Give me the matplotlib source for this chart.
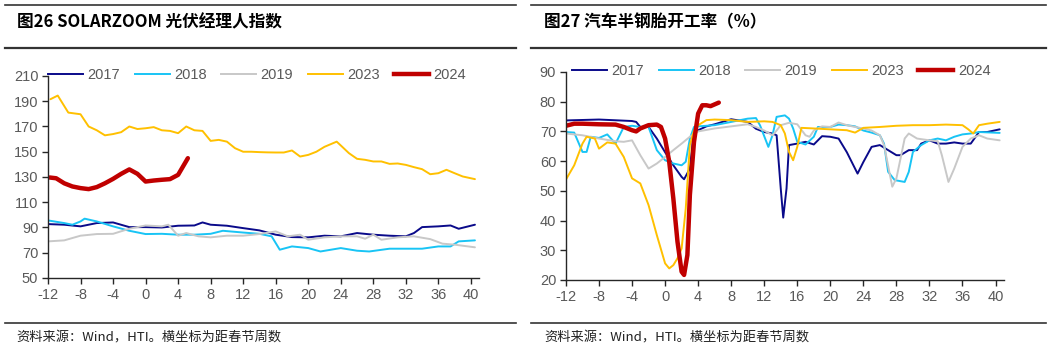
import numpy as np
import matplotlib.pyplot as plt
from matplotlib.lines import Line2D

plt.rcParams['font.family'] = ['Liberation Sans', 'Noto Sans CJK SC', 'DejaVu Sans']
plt.rcParams['axes.unicode_minus'] = False

# ---- Fig 26: SOLARZOOM PV manager index (weeks from Spring Festival)
pv17_x = [-12, -10, -8, -6, -4, -2, 0, 2, 4, 6, 7, 8, 10, 12, 14, 16, 18, 20, 22, 24, 26, 28, 30, 32, 33, 34, 36, 37.5, 38.5, 40.5]
pv17_y = [92.7, 92.2, 90.9, 93.5, 94.0, 90.3, 90.3, 90.0, 91.4, 91.6, 94.0, 92.2, 91.4, 89.5, 87.7, 84.3, 82.4, 82.2, 83.5, 83.0, 85.6, 84.3, 83.5, 83.0, 85.6, 90.3, 90.9, 91.6, 89.0, 92.2]

pv18_x = [-12, -10, -9, -8, -7.5, -6, -4, -2, 0, 2, 4, 6, 8, 9.5, 12, 14, 15.5, 16.5, 18, 20, 21.5, 24, 26, 27.5, 30, 32, 34, 36, 37.5, 38.5, 40.5]
pv18_y = [95.6, 93.5, 92.2, 94.8, 97.0, 94.8, 90.9, 87.4, 84.8, 85.0, 84.3, 84.3, 85.0, 87.4, 86.0, 85.0, 83.0, 72.4, 75.0, 73.7, 71.0, 73.7, 71.6, 71.0, 73.2, 73.2, 73.2, 75.0, 75.0, 79.0, 79.8]

pv19_x = [-12, -10, -8, -6, -4, -2, 0, 2, 2.8, 4, 5, 6.5, 8, 10, 12, 14, 16, 17.5, 19, 20, 22, 24, 26, 27, 28, 29, 31, 33, 35, 36.5, 38, 40.5]
pv19_y = [79.0, 79.8, 83.5, 84.8, 85.0, 89.0, 91.6, 90.9, 92.2, 83.5, 85.6, 83.0, 82.2, 83.5, 83.5, 84.8, 86.9, 83.0, 84.3, 80.3, 82.2, 83.0, 83.0, 81.1, 84.3, 80.3, 82.2, 83.0, 80.8, 77.2, 76.4, 74.3]

pv23_x = [-11.7, -10.8, -9.5, -8, -7, -6, -5, -4, -3, -2, -1, 0, 1, 2, 3, 4, 5, 6, 7, 8, 9, 10, 11, 12, 13, 14, 15, 16, 17, 18, 19, 20, 21, 22, 23.5, 24, 25, 26, 27, 28, 29, 30, 31, 32, 33, 34, 35, 36, 37, 38, 39, 40, 40.5]
pv23_y = [191.6, 194.5, 181.0, 179.7, 170.0, 167.0, 163.0, 164.0, 165.5, 170.0, 168.0, 168.6, 169.5, 167.0, 166.5, 164.7, 170.0, 167.0, 166.5, 158.6, 159.4, 158.0, 152.8, 150.0, 150.0, 149.7, 149.5, 149.4, 149.4, 151.0, 146.2, 147.5, 150.0, 153.9, 158.0, 155.0, 148.9, 144.4, 143.6, 142.3, 142.3, 140.4, 140.7, 139.6, 137.8, 136.2, 132.2, 133.0, 135.7, 133.0, 130.4, 129.0, 128.3]

pv24_x = [-11.8, -11, -10, -9, -8, -7, -6, -5, -4, -3, -2, -1, 0, 1, 2, 3, 4, 5.2]
pv24_y = [129.6, 129.0, 125.0, 122.5, 121.2, 120.4, 122.0, 125.0, 128.5, 132.5, 136.0, 132.5, 126.4, 127.2, 127.8, 128.3, 131.7, 144.9]

# ---- Fig 27: semi-steel tyre operating rate (%)
ty17_x = [-12, -8, -4, -3.5, -3, -2, -1, 0, 1, 2, 2.3, 3, 3.5, 4, 5, 6, 8, 10, 11, 12, 13, 13.5, 14, 14.3, 14.7, 15, 16, 17, 18, 19, 20, 21, 22, 23.3, 24, 25, 26, 27, 28, 28.5, 29.5, 30.5, 31, 32, 33, 34, 35, 36, 37, 38, 39, 40.5]
ty17_y = [73.7, 74.0, 73.5, 73.2, 71.5, 71.5, 67.6, 63.0, 58.6, 54.7, 53.9, 57.5, 70.4, 70.4, 71.7, 72.4, 74.1, 73.2, 70.9, 69.8, 69.3, 68.7, 50.8, 41.0, 50.8, 65.4, 65.9, 66.5, 65.6, 68.4, 68.2, 67.6, 63.0, 55.8, 59.7, 64.8, 65.4, 63.7, 62.0, 62.0, 63.7, 63.7, 65.9, 67.0, 65.9, 65.9, 66.3, 65.9, 65.9, 69.8, 69.8, 70.7]

ty18_x = [-12, -11, -10, -9.5, -9, -8, -7, -6, -5, -4, -3, -2, -1, 0, 1, 2, 2.5, 3, 3.5, 4, 6, 8, 10, 11, 11.5, 12.5, 13, 13.5, 14.5, 15, 15.5, 16, 17, 18, 18.5, 20, 21, 22, 23, 24, 25, 26, 26.5, 27, 27.8, 29, 29.5, 30, 31, 32, 33, 34, 35, 36, 37, 38, 40.5]
ty18_y = [69.8, 69.6, 63.1, 63.1, 68.2, 67.8, 69.0, 65.9, 71.5, 71.9, 71.5, 71.5, 63.7, 60.3, 59.2, 58.6, 59.8, 67.6, 71.5, 71.7, 72.1, 73.2, 74.3, 74.5, 72.0, 64.8, 68.7, 74.9, 75.4, 74.3, 71.0, 66.5, 65.6, 68.2, 71.5, 71.5, 72.3, 72.1, 71.7, 70.3, 69.6, 68.7, 65.9, 56.4, 53.6, 53.0, 56.4, 63.1, 65.4, 67.0, 67.6, 67.0, 68.2, 69.0, 69.3, 69.8, 69.5]

ty19_x = [-12, -10, -8, -6, -5, -4, -3, -2, -1, 0, 1, 2, 3, 4, 6, 8, 10, 11, 12, 13, 13.5, 14, 15, 16, 17, 17.5, 18, 19, 20, 21, 22, 23, 24, 25, 26, 26.5, 27.5, 28, 29, 29.5, 30.5, 32, 33, 33.5, 34.3, 35, 36, 37, 38, 39, 40.5]
ty19_y = [69.3, 68.7, 67.6, 66.7, 66.5, 67.0, 62.0, 57.5, 59.2, 61.4, 63.7, 65.9, 68.2, 70.0, 71.0, 71.7, 72.4, 71.5, 70.3, 68.7, 70.3, 72.1, 72.9, 72.4, 68.7, 68.2, 70.3, 71.7, 71.5, 73.0, 72.1, 71.5, 71.0, 70.3, 68.7, 65.4, 51.4, 54.2, 67.6, 69.3, 67.6, 67.0, 66.7, 62.0, 53.0, 57.5, 64.8, 67.6, 68.7, 67.6, 67.0]

ty23_x = [-12, -11, -10, -9.5, -8.5, -8, -7, -6, -5, -4, -3, -2, -1, 0, 0.5, 1, 1.5, 2, 2.5, 3, 3.5, 4, 5, 6, 8, 10, 12, 13, 14, 14.5, 15, 15.5, 16, 16.5, 18, 20, 22, 23, 24, 26, 28, 30, 32, 34, 36, 36.7, 37.3, 38, 39, 40.5]
ty23_y = [53.8, 58.6, 65.9, 68.2, 67.6, 64.2, 66.3, 65.9, 61.4, 54.2, 52.5, 45.2, 35.1, 25.6, 23.9, 25.0, 27.3, 30.6, 44.0, 65.4, 70.3, 72.1, 73.8, 74.0, 73.8, 73.2, 73.4, 73.2, 72.1, 69.3, 63.1, 60.3, 64.8, 71.2, 71.0, 70.7, 70.4, 69.6, 71.2, 71.5, 71.9, 72.1, 72.1, 72.3, 72.1, 70.7, 69.3, 72.1, 72.6, 73.2]

ty24_x = [-12, -11, -10, -8, -6, -5, -4, -3.5, -3, -2, -1, -0.5, 0, 0.5, 1, 1.5, 2, 2.3, 2.7, 3, 3.5, 4, 4.5, 5, 5.5, 6, 6.5]
ty24_y = [71.9, 72.6, 72.6, 72.4, 72.3, 71.5, 70.4, 70.0, 71.0, 72.1, 72.3, 71.5, 67.6, 59.8, 47.4, 32.9, 22.8, 21.7, 28.4, 48.6, 66.5, 76.0, 78.8, 78.8, 78.5, 79.1, 79.7]

labels = ['2017', '2018', '2019', '2023', '2024']
colors = ['#0a0a8a', '#18c4f5', '#c8c8c8', '#ffc000', '#c00000']
widths = [1.4, 1.4, 1.4, 1.4, 3.2]

pv_series = [(pv17_x, pv17_y), (pv18_x, pv18_y), (pv19_x, pv19_y), (pv23_x, pv23_y), (pv24_x, pv24_y)]
ty_series = [(ty17_x, ty17_y), (ty18_x, ty18_y), (ty19_x, ty19_y), (ty23_x, ty23_y), (ty24_x, ty24_y)]

fig = plt.figure(figsize=(10.5, 3.51), dpi=100)

cjk = ['Noto Sans CJK SC', 'DejaVu Sans']
grey = '#595959'


def panel(rect, series, ylim, yticks, lx0, rx0, rx1, title, legx):
    ax = fig.add_axes(rect)
    for (x, y), lab, c, w in zip(series, labels, colors, widths):
        ax.plot(x, y, color=c, lw=w, label=lab, solid_capstyle='round', solid_joinstyle='round')
    ax.set_xlim(-12, 41)
    ax.set_ylim(*ylim)
    ax.set_xticks(np.arange(-12, 41, 4))
    ax.set_yticks(yticks)
    for s in ['top', 'right']:
        ax.spines[s].set_visible(False)
    for s in ['left', 'bottom']:
        ax.spines[s].set_color('#262626')
        ax.spines[s].set_linewidth(1.0)
    ax.tick_params(direction='out', length=4, width=1, colors='#262626', labelcolor=grey, labelsize=10.5, pad=3)
    handles = [Line2D([], [], color=c, lw=w) for c, w in zip(colors, widths)]
    ax.legend(handles, labels, loc='upper left', bbox_to_anchor=(legx, 1.04), ncol=5, frameon=False,
              fontsize=10.5, handlelength=2.4, handletextpad=0.3, columnspacing=1.0, borderaxespad=0,
              borderpad=0, labelcolor=grey)
    # header and footer rules + texts
    fig.add_artist(Line2D([rx0, rx1], [0.986, 0.986], color='#333333', lw=1.2))
    fig.add_artist(Line2D([rx0, rx1], [0.862, 0.862], color='#333333', lw=1.6))
    fig.add_artist(Line2D([rx0, rx1], [0.08, 0.08], color='#333333', lw=1.2))
    fig.text(lx0, 0.935, title, family=cjk, fontsize=12, fontweight='bold', va='center', ha='left')
    fig.text(lx0, 0.038, '资料来源：Wind，HTI。横坐标为距春节周数', family=cjk, fontsize=9.5, va='center', ha='left',
             color='#222222')
    return ax


panel([0.0457, 0.208, 0.4105, 0.5755], pv_series, (50, 210), np.arange(50, 211, 20),
      0.016, 0.005, 0.491, '图26 SOLARZOOM 光伏经理人指数', 0.0)
panel([0.539, 0.2023, 0.417, 0.5926], ty_series, (20, 90), np.arange(20, 91, 10),
      0.518, 0.506, 0.996, '图27 汽车半钢胎开工率（%）', 0.014)

fig.savefig('out.png', dpi=100)
